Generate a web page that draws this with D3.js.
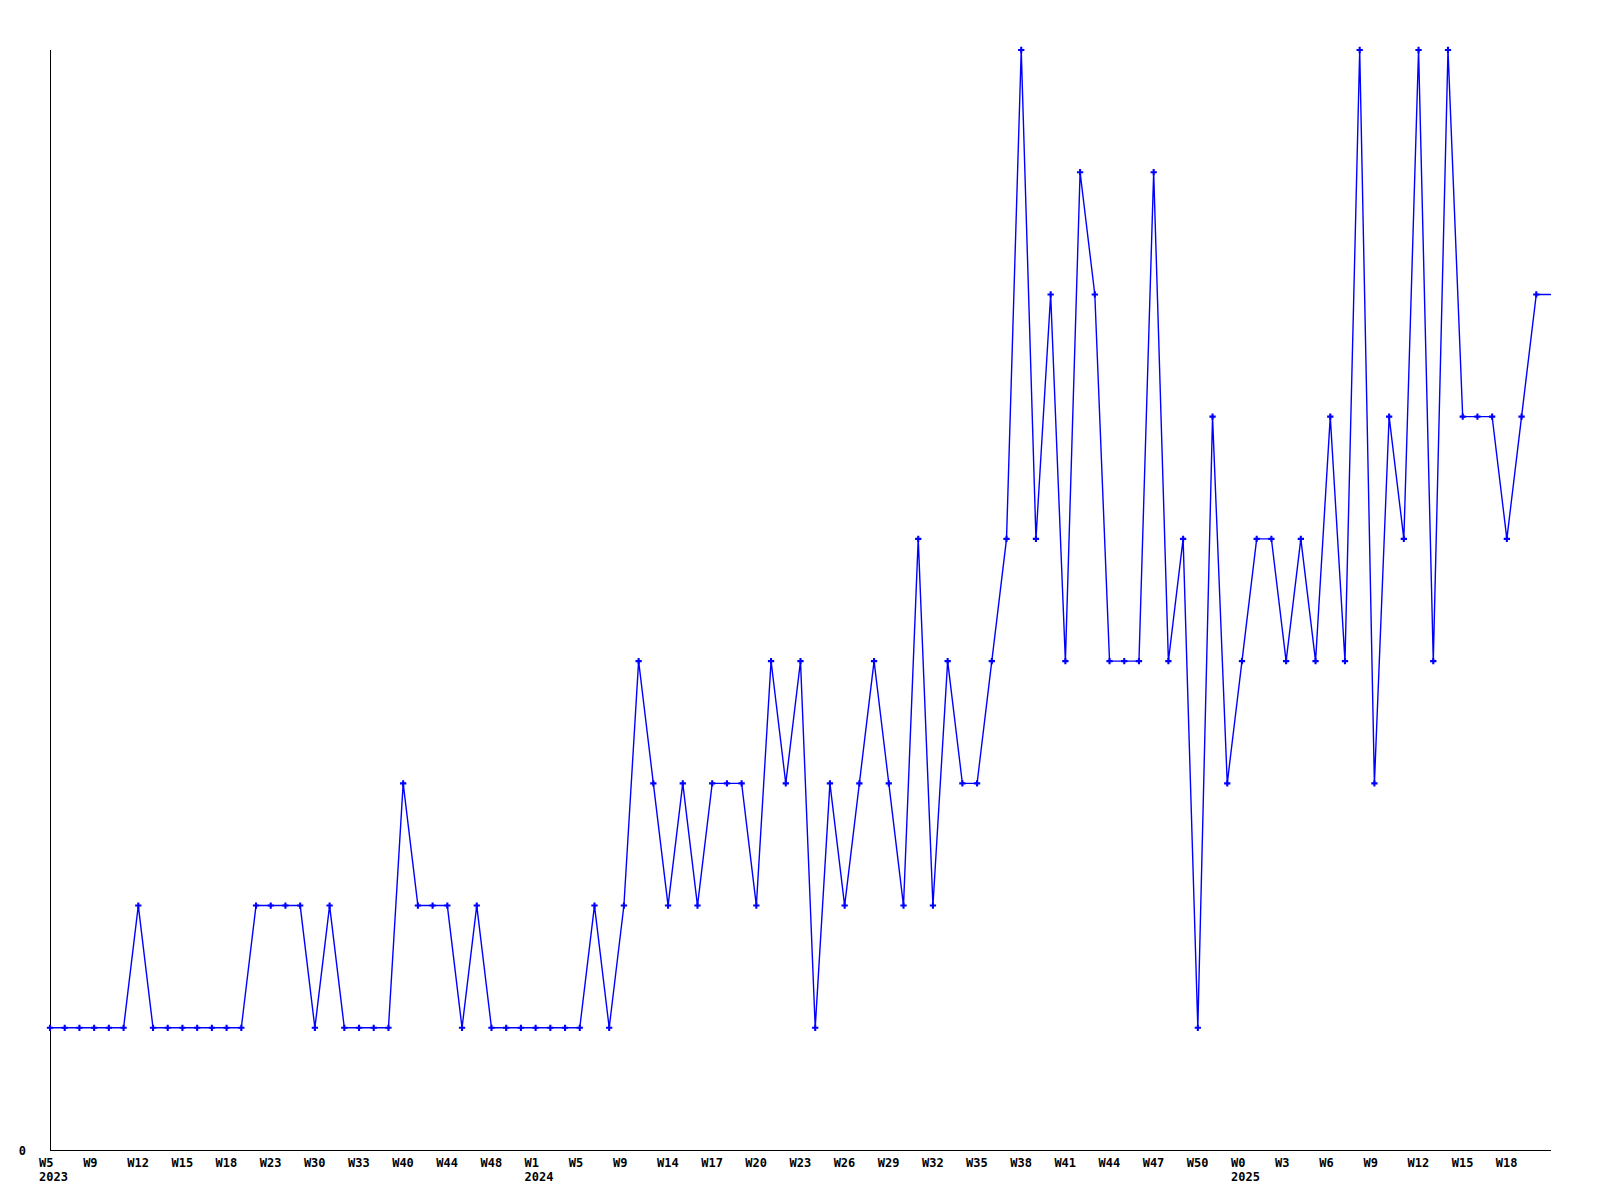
<!DOCTYPE html>
<html>
<head>
<meta charset="utf-8">
<script src="https://cdn.jsdelivr.net/npm/d3@7"></script>
<style>
  html, body { margin: 0; padding: 0; background: #ffffff; }
  svg { display: block; }
  text { font-family: "DejaVu Sans Mono", "Liberation Mono", monospace; font-weight: bold; font-size: 12px; fill: #000; }
</style>
</head>
<body>
<svg id="chart" width="1600" height="1200"></svg>
<script>
// Weekly values (one per point); the last point carries the line to the edge without a marker
const values = [
  1, 1, 1, 1, 1, 1, 2, 1, 1, 1, 1, 1, 1, 1, 2, 2, 2, 2, 1, 2,
  1, 1, 1, 1, 3, 2, 2, 2, 1, 2, 1, 1, 1, 1, 1, 1, 1, 2, 1, 2,
  4, 3, 2, 3, 2, 3, 3, 3, 2, 4, 3, 4, 1, 3, 2, 3, 4, 3, 2, 5,
  2, 4, 3, 3, 4, 5, 9, 5, 7, 4, 8, 7, 4, 4, 4, 8, 4, 5, 1, 6,
  3, 4, 5, 5, 4, 5, 4, 6, 4, 9, 3, 6, 5, 9, 4, 9, 6, 6, 6, 5,
  6, 7, 7
];
// X tick labels, one every 3 points
const tickLabels = [
  "W5", "W9", "W12", "W15", "W18", "W23", "W30", "W33", "W40", "W44", "W48",
  "W1", "W5", "W9", "W14", "W17", "W20", "W23", "W26", "W29", "W32", "W35",
  "W38", "W41", "W44", "W47", "W50", "W0", "W3", "W6", "W9", "W12", "W15", "W18"
];
const yearLabels = [
  "2023", "", "", "", "", "", "", "", "", "", "",
  "2024", "", "", "", "", "", "", "", "", "", "",
  "", "", "", "", "", "2025", "", "", "", "", "", ""
];
const tickStep = 3;
const yMax = 9;
const yTicks = [0];

const svg = d3.select("#chart");
const mLeft = 50, mRight = 1551, mTop = 50, mBottom = 1150;

const x = d3.scalePoint().domain(d3.range(values.length)).range([mLeft, mRight]);
const y = d3.scaleLinear().domain([0, yMax]).range([mBottom, mTop]);

// axes lines
svg.append("line").attr("x1", mLeft + 0.5).attr("x2", mLeft + 0.5)
  .attr("y1", mTop).attr("y2", mBottom + 0.5).attr("stroke", "#000").attr("stroke-width", 1);
svg.append("line").attr("x1", mLeft).attr("x2", mRight)
  .attr("y1", mBottom + 0.5).attr("y2", mBottom + 0.5).attr("stroke", "#000").attr("stroke-width", 1);

// y tick labels
svg.selectAll("text.ytick").data(yTicks).enter().append("text")
  .attr("class", "ytick")
  .attr("x", 26).attr("y", d => y(d) + 5)
  .attr("text-anchor", "end")
  .text(d => d);

// x tick labels
const tickIdx = tickLabels.map((_, i) => i * tickStep);
const xl = svg.append("g");
xl.selectAll("text.xtick").data(tickLabels).enter().append("text")
  .attr("class", "xtick")
  .attr("x", (d, i) => x(tickIdx[i]) - 11)
  .attr("y", mBottom + 17)
  .text(d => d);
xl.selectAll("text.year").data(yearLabels).enter().append("text")
  .attr("class", "year")
  .attr("x", (d, i) => x(tickIdx[i]) - 11)
  .attr("y", mBottom + 31)
  .text(d => d);

// line
const line = d3.line().x((d, i) => x(i)).y(d => y(d));
svg.append("path").datum(values)
  .attr("d", line)
  .attr("fill", "none")
  .attr("stroke", "#0000ff")
  .attr("stroke-width", 1.4);

// markers (all but the last point)
const cross = d3.symbol().type(d3.symbolCross).size(22);
svg.selectAll("path.marker").data(values.slice(0, values.length - 1)).enter().append("path")
  .attr("class", "marker")
  .attr("transform", (d, i) => `translate(${x(i)},${y(d)})`)
  .attr("d", cross)
  .attr("fill", "#0000ff");
</script>
</body>
</html>
